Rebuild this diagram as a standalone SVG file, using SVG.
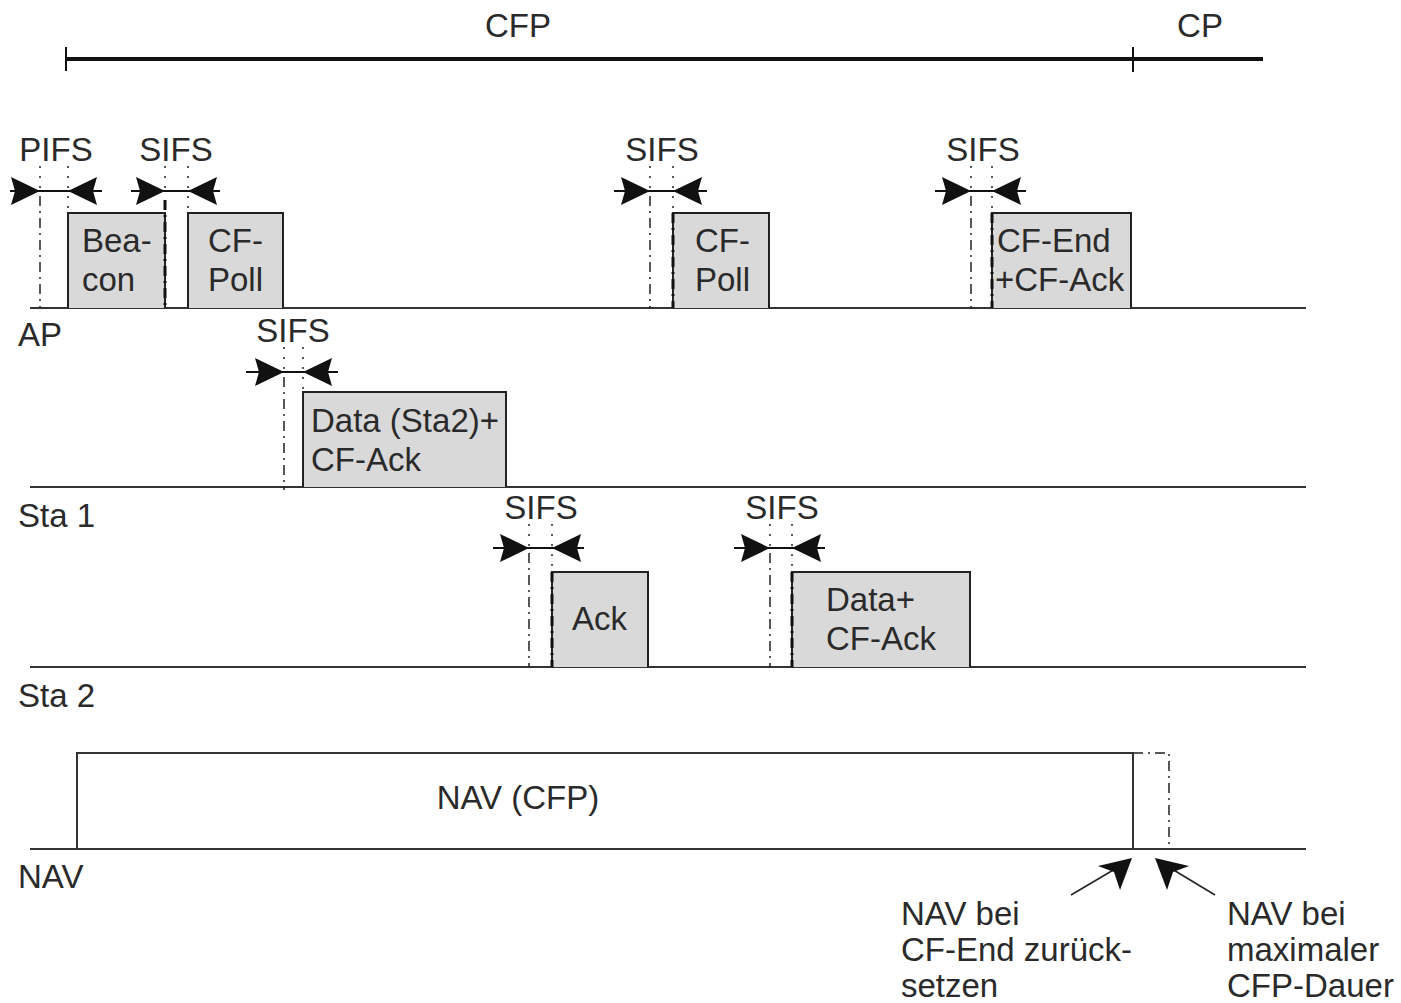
<svg xmlns="http://www.w3.org/2000/svg" xmlns:xlink="http://www.w3.org/1999/xlink" width="1401" height="1003" viewBox="0 0 1401 1003">
<style>
text{font-family:"Liberation Sans",Arial,sans-serif;font-size:33px;fill:#2a2a2a}
.mid{text-anchor:middle}
.row{stroke:#333;stroke-width:2;fill:none}
.box{fill:#d9d9d9;stroke:#222;stroke-width:2}
.dd{stroke:#222;stroke-width:1.5;stroke-dasharray:10,5,2,5;fill:none}
.ddb{stroke:#111;stroke-width:3;stroke-dasharray:10,5,2,5;fill:none}
.dot{stroke:#222;stroke-width:1.5;stroke-dasharray:2,8;fill:none}
.hl{stroke:#111;stroke-width:2}
.ah{fill:#111}
</style>
<defs>
<path id="ahR" d="M0,0 L-29,-14 L-25,0 L-29,14 Z"/>
<path id="ahL" d="M0,0 L29,-14 L25,0 L29,14 Z"/>
</defs>

<g id="timeline">
<line x1="66" y1="59" x2="1263" y2="59" stroke="#111" stroke-width="4"/>
<line x1="66" y1="47" x2="66" y2="71" stroke="#111" stroke-width="2"/>
<line x1="1133" y1="47" x2="1133" y2="72" stroke="#111" stroke-width="2"/>
<text x="518" y="37" class="mid">CFP</text>
<text x="1200" y="37" class="mid">CP</text>
</g>

<g id="rows">
<line class="row" x1="30" y1="308" x2="1306" y2="308"/>
<line class="row" x1="30" y1="487" x2="1306" y2="487"/>
<line class="row" x1="30" y1="667" x2="1306" y2="667"/>
<line class="row" x1="30" y1="849" x2="1306" y2="849"/>
<text x="18" y="346">AP</text>
<text x="18" y="527">Sta 1</text>
<text x="18" y="707">Sta 2</text>
<text x="18" y="888">NAV</text>
</g>

<g id="frames">
<g id="beacon"><path class="box" d="M68,308 V213 H165 V308"/><text x="82" y="252">Bea-</text><text x="82" y="291">con</text></g>
<g id="cfpoll1"><path class="box" d="M188,308 V213 H283 V308"/><text x="208" y="252">CF-</text><text x="208" y="291">Poll</text></g>
<g id="cfpoll2"><path class="box" d="M673,308 V213 H769 V308"/><text x="695" y="252">CF-</text><text x="695" y="291">Poll</text></g>
<g id="cfend"><path class="box" d="M992,308 V213 H1131 V308"/><text x="997" y="252">CF-End</text><text x="995" y="291">+CF-Ack</text></g>
<g id="datasta2"><path class="box" d="M303,487 V392 H506 V487"/><text x="311" y="432">Data (Sta2)+</text><text x="311" y="471">CF-Ack</text></g>
<g id="ack"><path class="box" d="M552,667 V572 H648 V667"/><text x="572" y="630">Ack</text></g>
<g id="datacfack"><path class="box" d="M792,667 V572 H970 V667"/><text x="826" y="611">Data+</text><text x="826" y="650">CF-Ack</text></g>
</g>

<g id="nav">
<path class="row" d="M77,849 V753 H1133 V849"/>
<path class="dd" d="M1133,753 H1169 V849"/>
<text x="518" y="809" class="mid">NAV (CFP)</text>
</g>

<g id="intervals">
<g id="pifs">
<text x="56" y="161" class="mid">PIFS</text>
<line class="dot" x1="40" y1="166" x2="40" y2="191"/><line class="dot" x1="68" y1="166" x2="68" y2="213"/>
<line class="dd" x1="40" y1="196" x2="40" y2="308"/>
<line class="hl" x1="10" y1="191" x2="102" y2="191"/>
<use xlink:href="#ahR" href="#ahR" class="ah" transform="translate(40,191)"/>
<use xlink:href="#ahL" href="#ahL" class="ah" transform="translate(68,191)"/>
</g>
<g id="sifs1">
<text x="176" y="161" class="mid">SIFS</text>
<line class="dot" x1="165" y1="166" x2="165" y2="191"/><line class="dot" x1="188" y1="166" x2="188" y2="213"/>
<line class="ddb" x1="165" y1="200" x2="165" y2="308"/>
<line class="hl" x1="131" y1="191" x2="220" y2="191"/>
<use xlink:href="#ahR" href="#ahR" class="ah" transform="translate(165,191)"/>
<use xlink:href="#ahL" href="#ahL" class="ah" transform="translate(188,191)"/>
</g>
<g id="sifs2">
<text x="662" y="161" class="mid">SIFS</text>
<line class="dot" x1="650" y1="166" x2="650" y2="191"/><line class="dot" x1="673" y1="166" x2="673" y2="213"/>
<line class="dd" x1="650" y1="196" x2="650" y2="308"/>
<line class="ddb" x1="673" y1="213" x2="673" y2="308"/>
<line class="hl" x1="614" y1="191" x2="707" y2="191"/>
<use xlink:href="#ahR" href="#ahR" class="ah" transform="translate(650,191)"/>
<use xlink:href="#ahL" href="#ahL" class="ah" transform="translate(673,191)"/>
</g>
<g id="sifs3">
<text x="983" y="161" class="mid">SIFS</text>
<line class="dot" x1="971" y1="166" x2="971" y2="191"/><line class="dot" x1="992" y1="166" x2="992" y2="213"/>
<line class="dd" x1="971" y1="196" x2="971" y2="308"/>
<line class="ddb" x1="992" y1="213" x2="992" y2="308"/>
<line class="hl" x1="935" y1="191" x2="1026" y2="191"/>
<use xlink:href="#ahR" href="#ahR" class="ah" transform="translate(971,191)"/>
<use xlink:href="#ahL" href="#ahL" class="ah" transform="translate(992,191)"/>
</g>
<g id="sifs4">
<text x="293" y="342" class="mid">SIFS</text>
<line class="dot" x1="284" y1="347" x2="284" y2="372"/><line class="dot" x1="303" y1="347" x2="303" y2="392"/>
<line class="dd" x1="284" y1="377" x2="284" y2="490"/>
<line class="hl" x1="246" y1="372" x2="338" y2="372"/>
<use xlink:href="#ahR" href="#ahR" class="ah" transform="translate(284,372)"/>
<use xlink:href="#ahL" href="#ahL" class="ah" transform="translate(303,372)"/>
</g>
<g id="sifs5">
<text x="541" y="519" class="mid">SIFS</text>
<line class="dot" x1="529" y1="524" x2="529" y2="548"/><line class="dot" x1="552" y1="524" x2="552" y2="572"/>
<line class="dd" x1="529" y1="553" x2="529" y2="667"/>
<line class="ddb" x1="552" y1="572" x2="552" y2="667"/>
<line class="hl" x1="493" y1="548" x2="584" y2="548"/>
<use xlink:href="#ahR" href="#ahR" class="ah" transform="translate(529,548)"/>
<use xlink:href="#ahL" href="#ahL" class="ah" transform="translate(552,548)"/>
</g>
<g id="sifs6">
<text x="782" y="519" class="mid">SIFS</text>
<line class="dot" x1="770" y1="524" x2="770" y2="548"/><line class="dot" x1="792" y1="524" x2="792" y2="572"/>
<line class="dd" x1="770" y1="553" x2="770" y2="667"/>
<line class="ddb" x1="792" y1="572" x2="792" y2="667"/>
<line class="hl" x1="734" y1="548" x2="825" y2="548"/>
<use xlink:href="#ahR" href="#ahR" class="ah" transform="translate(770,548)"/>
<use xlink:href="#ahL" href="#ahL" class="ah" transform="translate(792,548)"/>
</g>
</g>

<g id="connectors">
<line x1="1071" y1="895" x2="1115" y2="869" stroke="#222" stroke-width="1.5"/>
<polygon class="ah" points="1132,858 1098,866 1114,872 1120,890"/>
<line x1="1215" y1="895" x2="1172" y2="869" stroke="#222" stroke-width="1.5"/>
<polygon class="ah" points="1155,858 1189,866 1173,872 1167,890"/>
</g>

<g id="notes">
<text x="901" y="925">NAV bei</text>
<text x="901" y="961">CF-End zurück-</text>
<text x="901" y="997">setzen</text>
<text x="1227" y="925">NAV bei</text>
<text x="1227" y="961">maximaler</text>
<text x="1227" y="997">CFP-Dauer</text>
</g>
</svg>
